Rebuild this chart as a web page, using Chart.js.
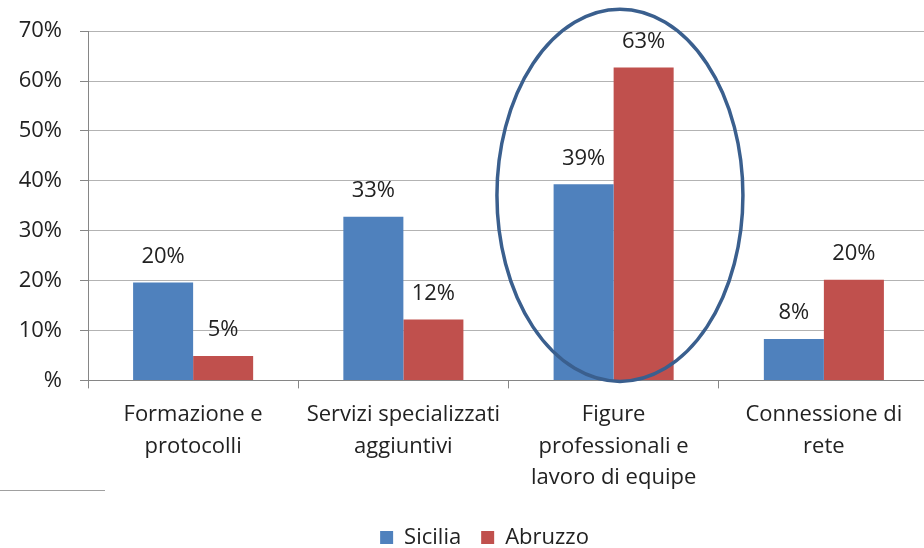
<!DOCTYPE html>
<html><head><meta charset="utf-8">
<script src="https://cdn.jsdelivr.net/npm/chart.js@4"></script>
<style>
html,body{margin:0;padding:0;background:#fff;overflow:hidden}
#wrap{position:relative;width:924px;height:548px;overflow:hidden}
#box{position:absolute;left:0;top:0;width:929px;height:548px}
#rule{position:absolute;left:0;top:490px;width:105px;height:0;border-top:1px solid #a0a0a0}
</style></head><body>
<div id="wrap"><div id="box"><canvas id="c" width="929" height="548"></canvas></div><div id="rule"></div></div>
<script>
const categories = [['Formazione e','protocolli'],['Servizi specializzati','aggiuntivi'],['Figure','professionali e','lavoro di equipe'],['Connessione di','rete']];
const seriesNames = ['Sicilia','Abruzzo'];
const sicilia = [19.6, 32.8, 39.3, 8.3];
const abruzzo = [4.9, 12.2, 62.7, 20.2];
const yTicks = [0,10,20,30,40,50,60,70];
const yTickLabels = ['%','10%','20%','30%','40%','50%','60%','70%'];
const highlight = {category: 2.03, yTop: 74.4, yBottom: -0.2, halfWidthFrac: 0.585};

const FONT = '"Open Sans", "DejaVu Sans", sans-serif';
const TXT = '#222';

const overlay = {
  id:'overlay',
  afterLayout(chart){ chart.legend.left += 20; chart.legend.right += 20; },
  afterDatasetsDraw(chart){
    const ctx = chart.ctx, xs = chart.scales.x, ys = chart.scales.y;
    ctx.save();
    const catW = xs.width / categories.length;
    const cx = xs.getPixelForValue(0) - catW/2 + (highlight.category + 0.5) * catW;
    const yT = ys.getPixelForValue(highlight.yTop), yB = ys.getPixelForValue(highlight.yBottom);
    ctx.beginPath();
    ctx.ellipse(cx, (yT+yB)/2, catW*highlight.halfWidthFrac, (yB-yT)/2, 0, 0, Math.PI*2);
    ctx.strokeStyle = '#3a5f8e'; ctx.lineWidth = 3.5; ctx.stroke();
    ctx.font = '22px ' + FONT; ctx.fillStyle = TXT; ctx.textAlign = 'center'; ctx.textBaseline = 'middle';
    chart.data.datasets.forEach((ds,i)=>{
      chart.getDatasetMeta(i).data.forEach((bar,j)=>{
        ctx.fillText(Math.round(ds.data[j]) + '%', bar.x, bar.y - 26);
      });
    });
    ctx.restore();
  }
};

new Chart(document.getElementById('c'), {
  type:'bar',
  data:{
    labels: categories,
    datasets:[
      {label: seriesNames[0], data: sicilia, backgroundColor:'#4f81bd'},
      {label: seriesNames[1], data: abruzzo, backgroundColor:'#c0504d'}
    ]
  },
  options:{
    responsive:false, animation:false, devicePixelRatio:1,
    categoryPercentage: 0.571, barPercentage: 1,
    layout:{padding:{top:29,left:0,right:0,bottom:-10.4}},
    plugins:{
      tooltip:{enabled:false},
      legend:{position:'bottom', labels:{boxWidth:13, boxHeight:13, padding:20, color:TXT, font:{size:22, family:FONT}}}
    },
    scales:{
      x:{
        grid:{offset:true, drawOnChartArea:false, drawTicks:true, tickLength:8, color:'#868686'},
        border:{color:'#868686'},
        ticks:{color:TXT, font:{size:22, family:FONT, lineHeight:1.45}, padding:10, maxRotation:0, autoSkip:false},
        afterFit(s){ s.height = 126; }
      },
      y:{
        min:0, max:70,
        afterBuildTicks(s){ s.ticks = yTicks.map(v=>({value:v})); },
        grid:{color:'#b3b3b3', tickLength:8, tickColor:'#868686'},
        border:{color:'#868686'},
        ticks:{color:TXT, font:{size:22, family:FONT}, padding:18, callback:(v)=>yTickLabels[yTicks.indexOf(v)]},
        afterFit(s){ s.width = 88; }
      }
    }
  },
  plugins:[overlay]
});
</script>
</body></html>
